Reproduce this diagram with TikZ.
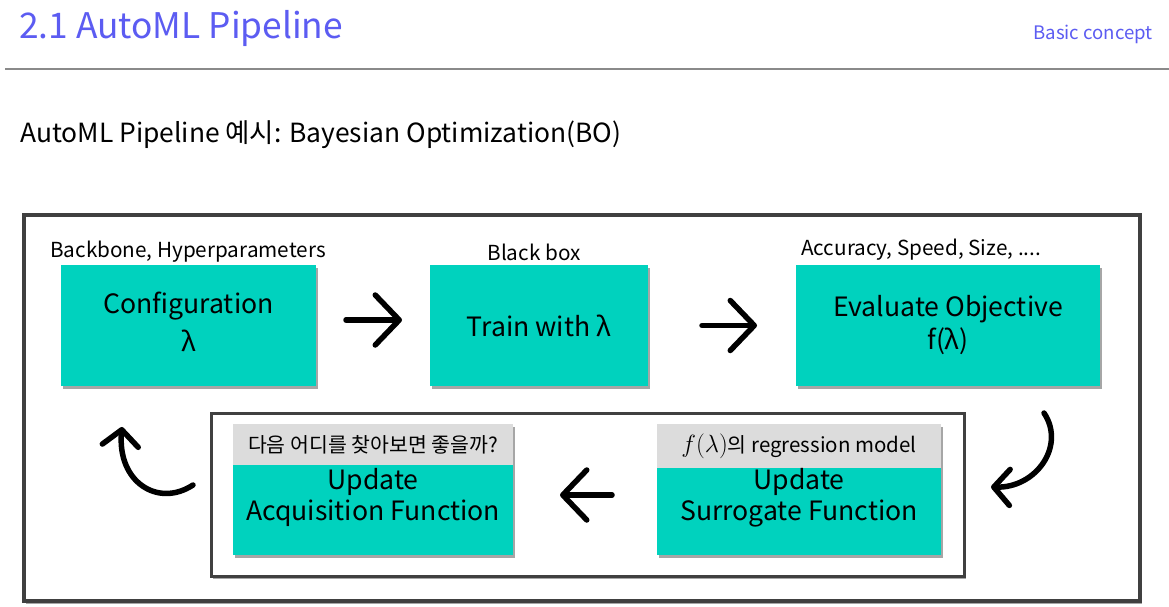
\documentclass[tikz,border=0pt]{standalone}
\usepackage[no-math]{fontspec}
\setmainfont{Noto Sans CJK KR}
\usetikzlibrary{arrows.meta,shadows}
\definecolor{tealfill}{HTML}{00D2BE}
\definecolor{hdrgray}{HTML}{DCDCDC}
\definecolor{titleblue}{HTML}{5C5CF2}
\definecolor{framegray}{HTML}{404040}
\definecolor{rulegray}{HTML}{8A8A8A}
\newcommand{\fs}[2]{\fontsize{#1}{#2}\selectfont}
\begin{document}
\begin{tikzpicture}[x=1pt,y=-1pt,
  shad/.style={drop shadow={shadow xshift=1.5pt,shadow yshift=-2.5pt,opacity=0.35,fill=black}},
  tealbox/.style={fill=tealfill,draw=none,inner sep=0pt,outer sep=0pt,anchor=north west,align=center,shad,font=\fs{26.6}{33}},
  hdrbox/.style={fill=hdrgray,draw=none,inner sep=0pt,outer sep=0pt,anchor=north west,font=\fs{20.5}{24}},
  framebox/.style={fill=white,draw=framegray,inner sep=0pt,outer sep=0pt,anchor=north west,shad},
  lbl/.style={inner sep=0pt,font=\fs{20.7}{24}},
  boxtxt/.style={inner sep=0pt,align=center,font=\fs{26.6}{31}},
  bigarr/.style={line width=5.5pt,line cap=round,-{Straight Barb[length=24pt,width=50pt,round]}},
  curvearr/.style={line width=5.5pt,line cap=round,-{Straight Barb[length=16pt,width=36pt,round]}}
]
\useasboundingbox (0,0) rectangle (1169,607);
\fill[white] (0,0) rectangle (1169,607);
% header
\node[inner sep=0pt,anchor=west,text=titleblue,font=\fs{35.3}{42}] (title) at (19,28) {2.1 AutoML Pipeline};
\node[inner sep=0pt,anchor=east,text=titleblue,font=\fs{18.6}{22}] (tag) at (1153,34) {Basic concept};
\draw[rulegray,line width=1.6pt] (5,69) -- (1169,69);
\node[inner sep=0pt,anchor=west,font=\fs{26.4}{30}] (sub) at (20,135) {AutoML Pipeline 예시: Bayesian Optimization(BO)};
% frames
\node[framebox,line width=3.5pt,minimum width=1116pt,minimum height=386pt] (outer) at (24,215) {};
\node[framebox,line width=3pt,minimum width=753pt,minimum height=163pt] (inner) at (211,413) {};
% top row
\node[tealbox,minimum width=255pt,minimum height=121pt] (conf) at (61,265) {};
\node[boxtxt,font=\fs{26.6}{38}] (conft) at (188.5,322) {Configuration\\λ};
\node[tealbox,minimum width=218pt,minimum height=121pt] (train) at (430,265) {Train with λ};
\node[tealbox,minimum width=304pt,minimum height=121pt] (eval) at (796,265) {Evaluate Objective\\f(λ)};
\node[lbl,anchor=west] (confl) at (50,252) {Backbone, Hyperparameters};
\node[lbl] (trainl) at (534,252) {Black box};
\node[lbl,anchor=west] (evall) at (801,250) {Accuracy, Speed, Size, ....};
% bottom row
\node[tealbox,minimum width=280pt,minimum height=131pt] (acq) at (233,424) {};
\node[hdrbox,minimum width=280pt,minimum height=41pt] (acqh) at (233,424) {다음 어디를 찾아보면 좋을까?};
\node[boxtxt] (acqt) at (373,497.5) {Update\\Acquisition Function};
\node[tealbox,minimum width=284pt,minimum height=131pt] (sur) at (657,424) {};
\node[hdrbox,minimum width=284pt,minimum height=44pt] (surh) at (657,424) {{\fs{25}{30}$f(\lambda)$}의 regression model};
\node[boxtxt] (surt) at (799,497.5) {Update\\Surrogate Function};
% arrows
\draw[bigarr,shorten <=30pt,shorten >=28pt] ([yshift=5.5pt]conf.east) -- ([yshift=5.5pt]train.west);
\draw[bigarr,shorten <=54pt,shorten >=39pt] (train.east) -- (eval.west);
\draw[bigarr,shorten <=45pt,shorten >=47pt] ([yshift=-5.5pt]sur.west) -- ([yshift=-5.5pt]acq.east);
\coordinate (r1) at (1044,413);
\coordinate (r2) at (991,487);
\draw[curvearr] (r1) .. controls (1066,446) and (1036,488) .. (r2);
\coordinate (l1) at (193,485);
\coordinate (l2) at (122,427);
\draw[curvearr] (l1) .. controls (158,508) and (117,482) .. (l2);
\end{tikzpicture}
\end{document}
